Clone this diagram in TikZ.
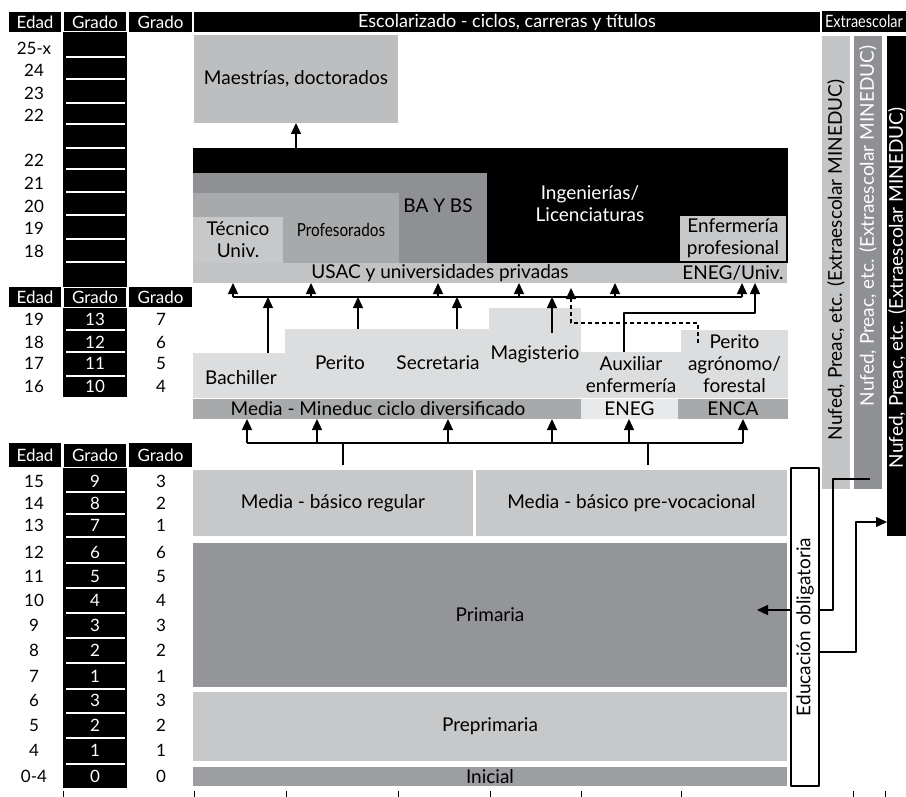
\documentclass[tikz,border=0pt]{standalone}
\usepackage{fontspec}
\setmainfont{Lato}
\newfontfamily\estrecha[FakeStretch=0.85]{Lato}
\usetikzlibrary{arrows.meta}
\definecolor{claro}{HTML}{DCDDDE}
\definecolor{medio}{HTML}{C7C8CA}
\definecolor{maes}{HTML}{BCBEC0}
\definecolor{usacg}{HTML}{C2C3C5}
\definecolor{barra}{HTML}{A7A9AB}
\definecolor{oscuro}{HTML}{8F9093}
\definecolor{prim}{HTML}{939598}
\definecolor{inic}{HTML}{9D9EA1}
\definecolor{enegc}{HTML}{E8E9EA}
\definecolor{nufed}{HTML}{C4C5C7}
\newcommand{\fs}[1]{\fontsize{#1}{22}\selectfont}
\begin{document}
\begin{tikzpicture}[x=1pt, y=-1pt, line join=round, >={Triangle[width=10pt,length=11pt]},
	font=\fs{19},
	caja/.style={anchor=north west, inner sep=0pt, outer sep=0pt, align=center},
	cab/.style={caja, fill=black, text=white, font=\fs{17}},
	num/.style={font=\fs{17}},
	con/.style={line width=1.3pt},
	raya/.style={white, line width=1.2pt}]
	\useasboundingbox (0,0) rectangle (906,797);
	% columna de grados
	\fill (63,12) rectangle (127,397);
	\fill (63,443) rectangle (127,788);
	\foreach \y in {57,79,103,124,148,169,192,215,239,262,330,352,376,492,514,537,563,588,613,638,663,689,713,738,764}
		\draw[raya] (66,\y) -- (125,\y);
	% encabezados
	\foreach \y/\h [count=\i] in {12/20,287/20,443/24} {
		\node[cab, minimum width=52pt, minimum height=\h pt] (edad\i) at (9,\y) {Edad};
		\node[cab, draw=white, line width=1pt, minimum width=63pt, minimum height=\h pt] (grado\i) at (63.5,\y) {Grado};
		\node[cab, minimum width=63pt, minimum height=\h pt] (nivel\i) at (129,\y) {Grado};
	}
	\node[cab, minimum width=626pt, minimum height=20pt, font=\fs{18}] (esc) at (194,12) {Escolarizado - ciclos, carreras y títulos};
	\node[cab, minimum width=84pt, minimum height=21pt, font=\estrecha\fs{17}] (extra) at (822,11) {Extraescolar};
	% edades y grados
	\foreach \y/\e in {48/25-x,70/24,93/23,115/22,160/22,183/21,206/20,228/19,251/18}
		\node[num] (e\y) at (34,\y) {\e};
	\foreach \y/\e/\g/\c in {319/19/13/7,342/18/12/6,363/17/11/5,386/16/10/4,
		481/15/9/3,503/14/8/2,525/13/7/1,552/12/6/6,576/11/5/5,600/10/4/4,625/9/3/3,
		650/8/2/2,676/7/1/1,700/6/3/3,725/5/2/2,750/4/1/1,776/0-4/0/0} {
		\node[num] (e\y) at (34,\y) {\e};
		\node[num, text=white] (g\y) at (95,\y) {\g};
		\node[num] (c\y) at (161,\y) {\c};
	}
	% universidad
	\node[caja, fill=maes, minimum width=204pt, minimum height=88pt] (mae) at (194,35) {Maestrías, doctorados};
	\node[caja, fill=black, minimum width=595pt, minimum height=115pt] (lic) at (193,148) {};
	\node[caja, fill=oscuro, minimum width=294pt, minimum height=90pt] (bays) at (193,173) {};
	\node[caja, fill=barra, minimum width=206pt, minimum height=70pt] (prof) at (193,193) {};
	\node[caja, fill=medio, minimum width=90pt, minimum height=46pt] (tec) at (193,217) {Técnico\\Univ.};
	\node[caja, fill=medio, minimum width=106pt, minimum height=45pt] (enf) at (680,216) {Enfermería\\profesional};
	\node[font=\estrecha\fs{18}] at (341,230) {Profesorados};
	\node at (438,206) {BA Y BS};
	\node[text=white, align=center] at (590,204) {Ingenierías/\\Licenciaturas};
	\node[caja, fill=usacg, minimum width=594pt, minimum height=20pt] (usac) at (193,263) {};
	\node at (440,273) {USAC y universidades privadas};
	\node at (733,273) {ENEG/Univ.};
	% diversificado
	\node[caja, fill=claro, minimum width=92pt, minimum height=45pt] (bach) at (193,353) {};
	\node[caja, fill=claro, minimum width=107pt, minimum height=69pt] (per) at (285,329) {};
	\node[caja, fill=claro, minimum width=97pt, minimum height=69pt] (sec) at (392,329) {};
	\node[caja, fill=claro, minimum width=92pt, minimum height=90pt] (mag) at (489,308) {};
	\node[caja, fill=claro, minimum width=100pt, minimum height=46pt] (aux) at (581,352) {Auxiliar\\enfermería};
	\node[caja, fill=claro, minimum width=107pt, minimum height=68pt] (pagr) at (681,330) {Perito\\agrónomo/\\forestal};
	\node at (241,378) {Bachiller};
	\node at (340,363) {Perito};
	\node at (438,363) {Secretaria};
	\node at (535,354) {Magisterio};
	\node[caja, fill=barra, minimum width=388pt, minimum height=20pt] (mdiv) at (193,399) {};
	\node at (378,409) {Media - Mineduc ciclo diversificado};
	\node[caja, fill=enegc, minimum width=97pt, minimum height=20pt] (eneg) at (581,399) {ENEG};
	\node[caja, fill=barra, minimum width=110pt, minimum height=20pt] (enca) at (678,399) {ENCA};
	% basico, primaria, preprimaria
	\node[caja, fill=medio, minimum width=280pt, minimum height=66pt] (mbr) at (193,470) {Media - básico regular};
	\node[caja, fill=medio, minimum width=311pt, minimum height=66pt] (mbp) at (476,470) {Media - básico pre-vocacional};
	\node[caja, fill=prim, minimum width=594pt, minimum height=144pt] (prima) at (193,543) {Primaria};
	\node[caja, fill=medio, minimum width=594pt, minimum height=69pt] (pre) at (193,692) {Preprimaria};
	\node[caja, fill=inic, minimum width=594pt, minimum height=19pt] (ini) at (193,767) {Inicial};
	\node[caja, draw, line width=1.3pt, fill=white, minimum width=28pt, minimum height=318pt] (edu) at (791,468) {};
	\node[rotate=90] at (edu.center) {Educación obligatoria};
	% extraescolar
	\node[caja, fill=nufed, minimum width=28pt, minimum height=453pt] (nf1) at (822,36) {};
	\node[caja, fill=oscuro, minimum width=28pt, minimum height=453pt] (nf2) at (854,36) {};
	\node[caja, fill=black, minimum width=24pt, minimum height=500pt] (nf3) at (887,36) {};
	\node[rotate=90] at (836,260) {Nufed, Preac, etc. (Extraescolar MINEDUC)};
	\node[rotate=90, text=white] at (868,226) {Nufed, Preac, etc. (Extraescolar MINEDUC)};
	\node[rotate=90, text=white, inner sep=0pt] at (897,288) {Nufed, Preac, etc. (Extraescolar MINEDUC)};
	% flechas
	\draw[con,->] (mae.south |- lic.north) -- (mae.south);
	\coordinate (bs1) at (233,297); \coordinate (bs2) at (742,297);
	\draw[con] (bs1) -- (bs2);
	\foreach \x [count=\i] in {233,311,438,519,615,742} {
		\coordinate (u\i) at (\x,297);
		\draw[con,->] (u\i) -- (u\i |- usac.south);
	}
	\draw[con,->] ([xshift=29pt]bach.north) -- ([xshift=29pt]bach.north |- bs1);
	\draw[con,->] ([xshift=19.5pt]per.north) -- ([xshift=19.5pt]per.north |- bs1);
	\draw[con,->] ([xshift=16.5pt]sec.north) -- ([xshift=16.5pt]sec.north |- bs1);
	\draw[con,->] ([xshift=17pt,yshift=-25pt]mag.north) -- ([xshift=17pt]mag.north |- bs1);
	\coordinate (dsh) at (571,323);
	\draw[con, dash pattern=on 4pt off 3pt, ->, shorten >=5pt] ([xshift=-36.5pt,yshift=-13pt]pagr.north) |- (dsh) -- (dsh |- usac.south);
	\coordinate (ax) at (755,313);
	\draw[con,->] ([xshift=-7pt]aux.north) |- (ax) -- (ax |- usac.south);
	\coordinate (bi1) at (247,443); \coordinate (bi2) at (743,443);
	\draw[con] (bi1) -- (bi2);
	\foreach \x [count=\i] in {247,317,448,552,629,743} {
		\coordinate (d\i) at (\x,443);
		\draw[con,->] (d\i) -- (d\i |- mdiv.south);
	}
	\draw[con] ([xshift=10pt,yshift=5pt]mbr.north) -- ([xshift=10pt]mbr.north |- bi1);
	\draw[con] ([xshift=16.5pt,yshift=5pt]mbp.north) -- ([xshift=16.5pt]mbp.north |- bi1);
	\draw[con,->] ([yshift=17pt]edu.west) -- ++(-34,0);
	\coordinate (n2) at (833,479);
	\draw[con] ([yshift=17pt]edu.east) -| (n2) -- ++(37,0);
	\coordinate (n3) at (856,522);
	\draw[con,->] ([yshift=-25pt]edu.east) -| (n3) -- (n3 -| nf3.west);
	% marcas inferiores
	\foreach \x in {63,194,286,398,490,581,681,853,885}
		\draw[line width=1pt] (\x,791) -- (\x,797);
\end{tikzpicture}
\end{document}
